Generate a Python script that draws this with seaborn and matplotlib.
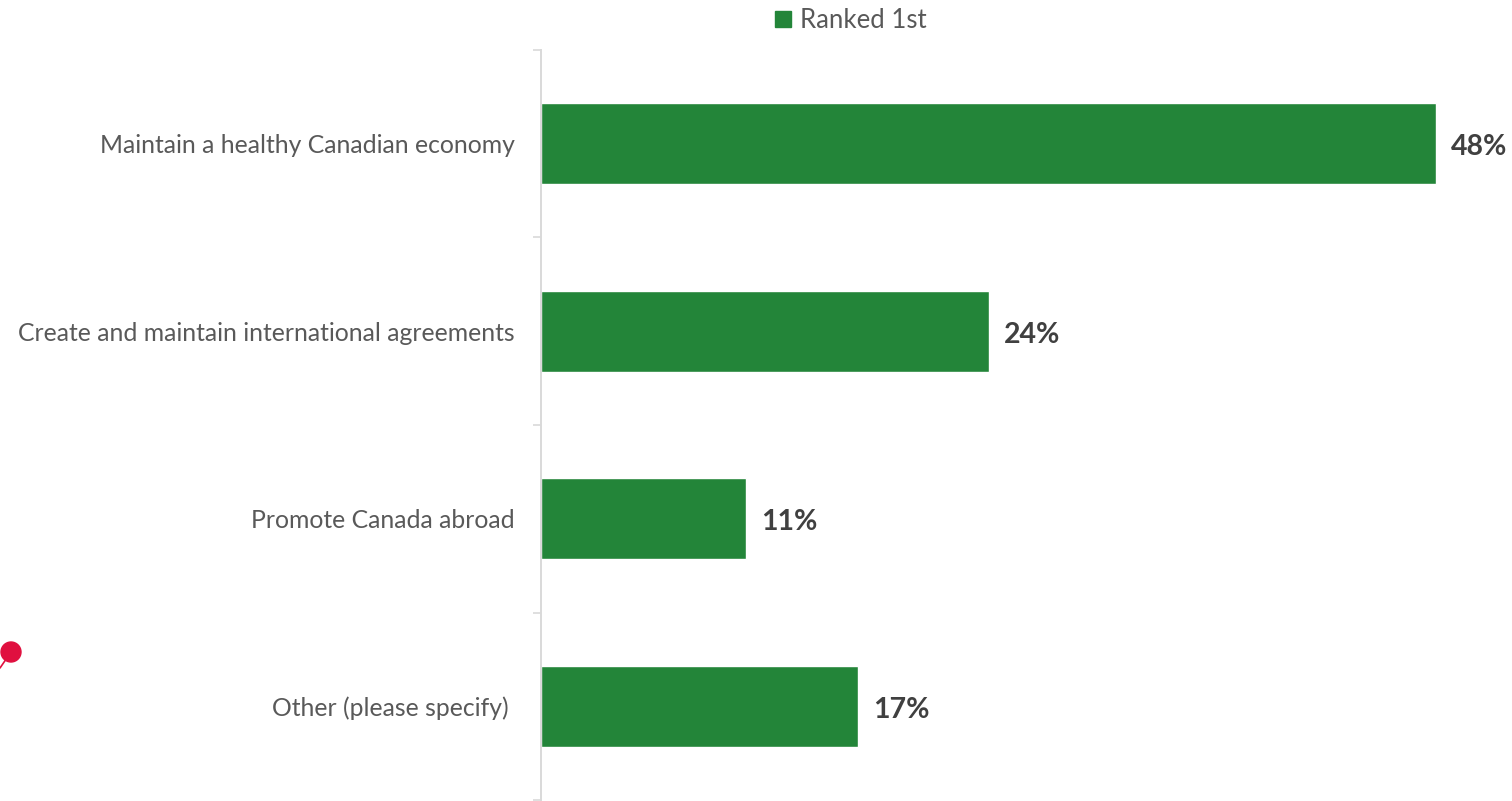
import matplotlib
matplotlib.use("Agg")
import matplotlib.pyplot as plt
from matplotlib.patches import Circle
from matplotlib.lines import Line2D
import seaborn as sns
import pandas as pd

categories = [
    "Maintain a healthy Canadian economy",
    "Create and maintain international agreements",
    "Promote Canada abroad",
    "Other (please specify) ",
]
ranked_first = [48, 24, 11, 17]
series_name = "Ranked 1st"

GREEN = "#238539"
LABEL_GREY = "#595959"
VALUE_GREY = "#404040"
AXIS_GREY = "#d9d9d9"

sns.set_theme(style="white")
plt.rcParams["font.family"] = ["Lato", "DejaVu Sans"]

df = pd.DataFrame({"category": categories, "value": ranked_first})

fig = plt.figure(figsize=(15.12, 8.01), dpi=100)
ax = fig.add_axes([0.3578, 0.0012, 0.6422, 0.9364])

sns.barplot(data=df, x="value", y="category", orient="h", color=GREEN,
            width=0.43, saturation=1, ax=ax)

ax.set_xlim(0, 52.07)
ax.set_ylim(len(categories) - 0.5, -0.5)
ax.set_xlabel("")
ax.set_ylabel("")
ax.xaxis.set_visible(False)
for side in ("top", "right", "bottom"):
    ax.spines[side].set_visible(False)
ax.spines["left"].set_color(AXIS_GREY)
ax.spines["left"].set_linewidth(1.4)

# category labels centred, tick marks on the category boundaries
ax.set_yticks(range(len(categories)))
ax.set_yticklabels(categories)
ax.tick_params(axis="y", which="major", length=0, pad=19,
               labelsize=17.8, labelcolor=LABEL_GREY)
ax.set_yticks([i - 0.5 for i in range(len(categories) + 1)], minor=True)
ax.tick_params(axis="y", which="minor", length=6, width=1.2,
               color=AXIS_GREY, direction="out", left=True)

value_texts = ax.bar_label(ax.containers[0], labels=[f"{v}%" for v in ranked_first],
                           padding=11, fontsize=20.5, fontweight="bold",
                           color=VALUE_GREY)
for t in value_texts:
    t.xyann = (t.xyann[0], -2.5)

handle = Line2D([], [], marker="s", linestyle="none", markersize=11,
                markerfacecolor=GREEN, markeredgecolor=GREEN)
fig.legend([handle], [series_name], loc="center", bbox_to_anchor=(0.562, 0.974),
           frameon=False, fontsize=18.5, labelcolor=LABEL_GREY,
           handletextpad=0.25, handlelength=0.8)

# small red pin on the left margin
pin_x, pin_y = 11 / 1512, 1 - 652 / 801
fig.add_artist(Line2D([0.0, pin_x], [pin_y - 16 / 801, pin_y], color="#e0103f",
                      linewidth=1.2, transform=fig.transFigure))
fig.add_artist(Circle((11, 801 - 652), 10, transform=None, color="#e0103f"))

fig.savefig("out.png", dpi=100)
